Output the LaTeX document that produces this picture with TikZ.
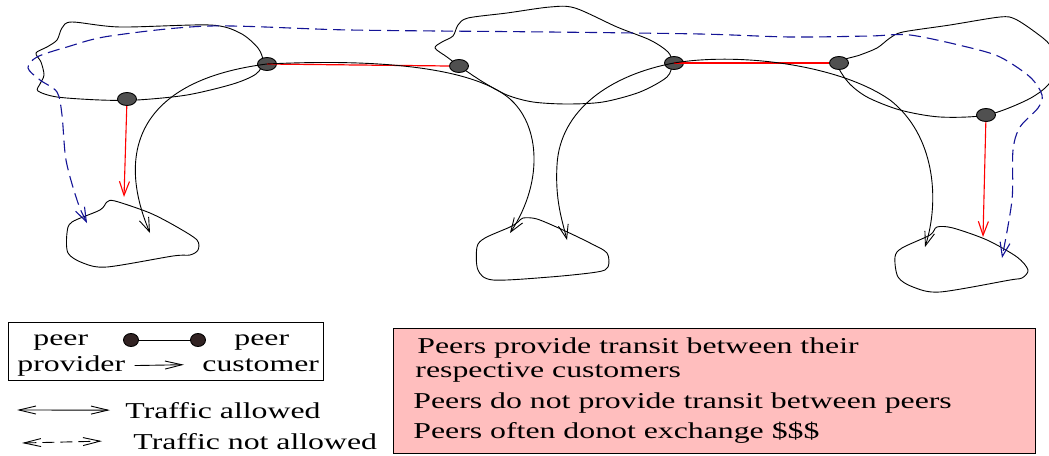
\documentclass[tikz,border=0pt]{standalone}
\usepackage{fontspec}
\setmainfont{Liberation Serif}[FakeStretch=1.4]
\usetikzlibrary{shapes.geometric,arrows.meta}

\definecolor{dotgrey}{RGB}{80,80,80}
\definecolor{legdotc}{RGB}{50,35,35}
\definecolor{tblue}{RGB}{20,20,150}
\definecolor{boxpink}{RGB}{255,190,190}

\tikzset{
  peerdot/.style={ellipse, draw, fill=dotgrey, minimum width=19pt, minimum height=13pt, inner sep=0pt},
  legdot/.style={ellipse, draw, fill=legdotc, minimum width=15pt, minimum height=13pt, inner sep=0pt},
  txt/.style={font=\fontsize{22.7}{27}\selectfont, inner sep=0pt, anchor=base west},
  barb/.style={-{Straight Barb[length=14pt,width=10pt]}},
  legbarb/.style={-{Straight Barb[length=17pt,width=8pt]}},
  legboth/.style={{Straight Barb[length=17pt,width=8pt]}-{Straight Barb[length=17pt,width=8pt]}},
  notallowed/.style={dash pattern=on 12pt off 6pt}
}

\begin{document}
\begin{tikzpicture}[x=1pt,y=-1pt,line width=0.9pt]
\useasboundingbox (0,0) rectangle (1049,455);
\clip (0,0) rectangle (1049,455);

% provider clouds
\draw plot[smooth cycle] coordinates {(72,22) (120,27) (210,25) (240,33) (258,48) (263,62) (256,74) (233,84) (187,95) (137,100) (100,100) (57,97) (38,91) (40,84) (44,75) (41,62) (36,53) (47,47) (57,40) (62,28)};
\draw plot[smooth cycle] coordinates {(468,18) (507,13) (550,7) (575,8) (617,27) (650,40) (668,52) (672,63) (667,77) (640,92) (603,102) (567,104) (533,102) (507,95) (483,82) (459,66) (447,57) (435,48) (442,42) (453,36) (458,25)};
\draw plot[smooth cycle] coordinates {(838,63) (860,55) (877,48) (890,38) (903,32) (950,25) (1000,17) (1015,19) (1035,32) (1050,45) (1058,65) (1048,85) (1027,100) (987,115) (940,117) (900,110) (867,97) (848,82)};
% customer clouds
\draw plot[smooth cycle] coordinates {(107,202) (115,201) (150,213) (177,227) (197,240) (198,250) (190,255) (173,256) (107,267) (83,263) (68,253) (67,233) (72,222) (100,210)};
\draw plot[smooth cycle] coordinates {(523,218) (537,219) (563,230) (590,243) (607,253) (608,267) (597,272) (550,277) (493,280) (478,270) (477,247) (485,238) (510,227) (518,222)};
\draw plot[smooth cycle] coordinates {(937,227) (953,228) (987,240) (1017,257) (1028,270) (1022,278) (1010,280) (940,292) (913,287) (898,277) (895,257) (902,248) (930,235)};

% peering points
\node[peerdot] (A1) at (127,99) {};
\node[peerdot] (B1) at (267,64) {};
\node[peerdot] (C2L) at (459,66) {};
\node[peerdot] (C2R) at (674,63) {};
\node[peerdot] (C3L) at (839,63) {};
\node[peerdot] (A3) at (986,115) {};

\coordinate (c4r) at (124,197);
\coordinate (c4a) at (150,233);
\coordinate (c4b) at (87,223);
\coordinate (c5a) at (510,233);
\coordinate (c5b) at (567,240);
\coordinate (c6a) at (925,247);
\coordinate (c6r) at (983,237);
\coordinate (c6b) at (1002,258);

% peer links and customer links
\draw[red, line width=1.2pt] (B1.center) -- (C2L.west);
\draw[red, line width=1.2pt] (C2R.center) -- (C3L.west);
\draw[red, line width=1.1pt, barb] (A1) -- (c4r);
\draw[red, line width=1.1pt, barb] (A3) -- (c6r);

\draw[barb] (B1.center) .. controls (140,80) and (115,150) .. (c4a);
\draw[barb] (B1.center) .. controls (390,58) and (470,70) .. (505,95) .. controls (540,120) and (545,180) .. (c5a);
\draw[barb] (C2R.center) .. controls (610,75) and (560,110) .. (557,165) .. controls (555,200) and (562,220) .. (c5b);
\draw[barb] (C2R.center) .. controls (740,52) and (840,65) .. (890,100) .. controls (935,135) and (940,200) .. (c6a);

% traffic that is not allowed
\draw[tblue, line width=1.1pt, notallowed, {Straight Barb[length=14pt,width=10pt]}-{Straight Barb[length=14pt,width=10pt]}]
  plot[smooth] coordinates {(c4b) (77,200) (66,160) (62,115) (57,92) (40,80) (28,68) (37,57) (67,47) (110,36) (210,26) (350,30) (550,32) (700,34) (790,37) (870,36) (910,35) (967,47) (1000,57) (1030,77) (1042,95) (1038,108) (1020,127) (1013,150) (1012,200) (c6b)};

% legend
\draw (8,322) rectangle (323,380);
\node[txt] (peerA) at (33,345) {peer};
\node[legdot] (LP1) at (131,340) {};
\node[legdot] (LP2) at (198,340) {};
\draw[line width=0.8pt] (LP1) -- (LP2);
\node[txt] (peerB) at (234,345) {peer};
\node[txt] (prov) at (17,371) {provider};
\node[txt] (cust) at (202,371) {customer};
\draw[line width=0.9pt, legbarb] ([xshift=9pt]prov.east) -- ([xshift=-18pt]cust.west);

\node[txt] (allow) at (125,418) {Traffic allowed};
\coordinate (al1) at (17,410);
\draw[line width=0.9pt, legboth] (al1) -- ([xshift=-15pt]allow.west);
\node[txt] (notallow) at (133,449) {Traffic not allowed};
\coordinate (nal1) at (22,443);
\draw[line width=0.9pt, legboth, dash pattern=on 12pt off 6pt] (nal1) -- ([xshift=-31pt]notallow.west);

% remarks
\draw[fill=boxpink] (393,328) rectangle (1035,453);
\node[txt] (rem1) at (417,353) {Peers provide transit between their};
\node[txt] (rem2) at (415,377) {respective customers};
\node[txt] (rem3) at (413,408) {Peers do not provide transit between peers};
\node[txt] (rem4) at (413,438) {Peers often donot exchange \$\$\$};
\end{tikzpicture}
\end{document}
